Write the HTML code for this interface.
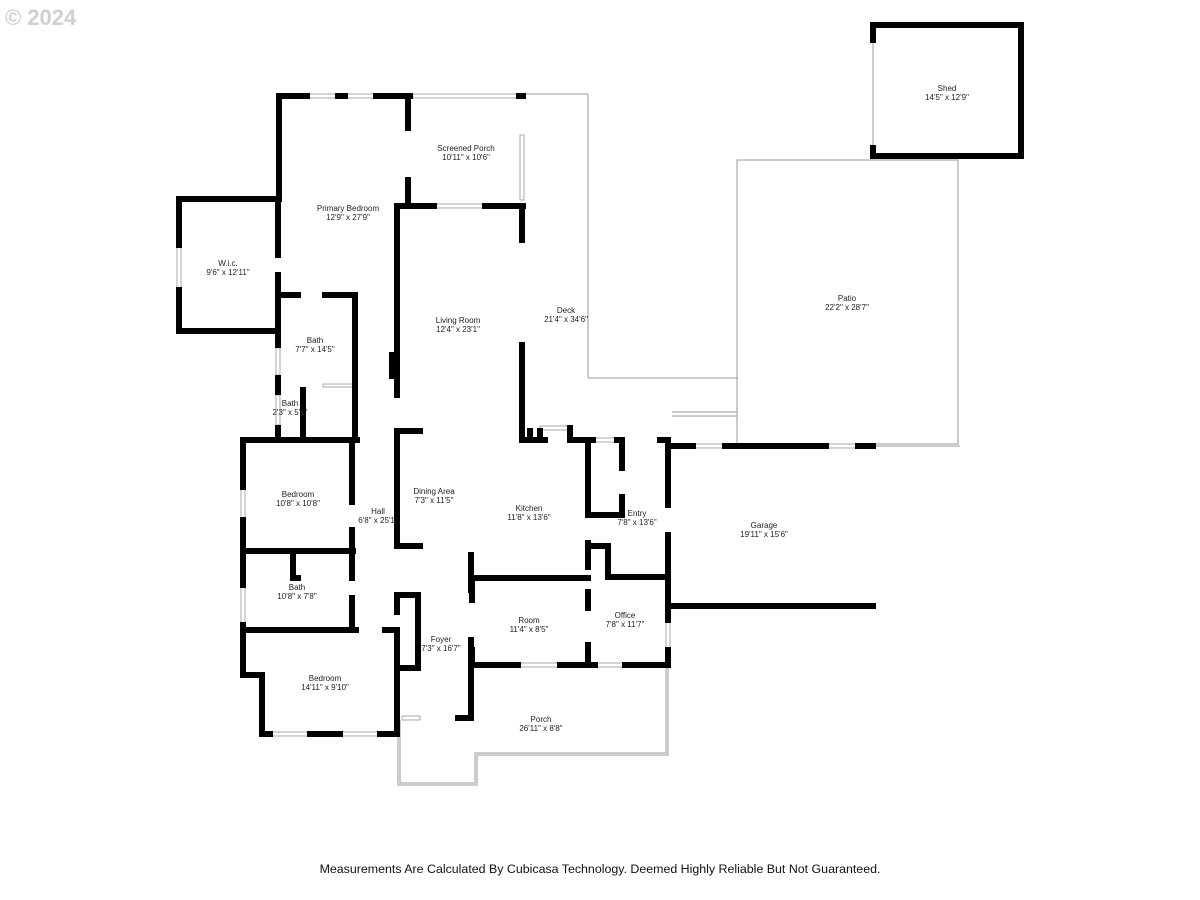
<!DOCTYPE html>
<html><head><meta charset="utf-8"><style>
html,body{margin:0;padding:0;background:#fff;width:1200px;height:900px;overflow:hidden}
svg{display:block}
text{font-family:"Liberation Sans",sans-serif;font-size:8px;fill:#222;text-anchor:middle}
</style></head><body>
<svg width="1200" height="900" viewBox="0 0 1200 900">
<g stroke="#999" stroke-width="1" fill="none">
<polyline points="525,94 588,94 588,378 738,378"/>
<rect x="737" y="160" width="221" height="284"/>
<polyline points="398,720 398,785 477,785 477,755 668,755 668,665"/>
<polyline points="400,720 400,783 475,783 475,753 666,753 666,665"/>
<line x1="672" y1="412" x2="737" y2="412"/><line x1="672" y1="416" x2="737" y2="416"/>
<line x1="873" y1="40" x2="873" y2="148"/>
<line x1="872" y1="446" x2="960" y2="446"/>
</g>
<g stroke="#aaa" stroke-width="1" fill="#fff">
<rect x="307" y="94" width="31" height="4"/><rect x="345" y="94" width="31" height="4"/>
<rect x="413" y="94" width="104" height="4"/>
<rect x="520" y="135" width="4" height="65"/>
<rect x="434" y="204" width="51" height="4"/>
<rect x="177" y="245" width="4" height="45"/>
<rect x="276" y="348" width="4" height="27"/>
<rect x="276" y="395" width="4" height="30"/>
<rect x="241" y="487" width="4" height="33"/><rect x="241" y="585" width="4" height="40"/>
<rect x="248" y="438" width="25" height="4"/>
<rect x="270" y="732" width="40" height="4"/><rect x="340" y="732" width="40" height="4"/>
<rect x="402" y="716" width="18" height="4"/>
<rect x="540" y="426" width="30" height="4"/>
<rect x="593" y="438" width="24" height="4"/>
<rect x="693" y="444" width="32" height="4"/><rect x="826" y="444" width="32" height="4"/>
<rect x="518" y="663" width="42" height="4"/><rect x="595" y="663" width="30" height="4"/>
<rect x="666" y="620" width="4" height="30"/>
<rect x="323" y="384" width="32" height="3"/>
</g>
<g stroke="#000" stroke-width="6" stroke-linecap="square" fill="none">
<polyline points="307,96 279,96 279,199 179,199 179,245"/>
<polyline points="179,290 179,331 278,331"/>
<line x1="338" y1="96" x2="345" y2="96"/><line x1="376" y1="96" x2="410" y2="96"/>
<line x1="278" y1="199" x2="278" y2="255"/><line x1="278" y1="275" x2="278" y2="345"/>
<line x1="278" y1="378" x2="278" y2="392"/><line x1="278" y1="428" x2="278" y2="440"/>
<line x1="408" y1="96" x2="408" y2="128"/><line x1="408" y1="180" x2="408" y2="205"/>
<line x1="519" y1="96" x2="523" y2="96"/>
<polyline points="434,206 397,206 397,395"/>
<line x1="485" y1="206" x2="523" y2="206"/>
<line x1="522" y1="206" x2="522" y2="240"/><line x1="522" y1="345" x2="522" y2="440"/>
<line x1="392" y1="355" x2="392" y2="376"/>
<line x1="278" y1="295" x2="298" y2="295"/><polyline points="325,295 355,295 355,440"/>
<line x1="303" y1="390" x2="303" y2="440"/>
<line x1="243" y1="440" x2="357" y2="440"/>
<polyline points="243,442 243,487"/><line x1="243" y1="520" x2="243" y2="585"/>
<line x1="243" y1="625" x2="243" y2="675"/>
<polyline points="243,675 262,675 262,734 270,734"/>
<line x1="310" y1="734" x2="340" y2="734"/><line x1="380" y1="734" x2="397" y2="734"/>
<line x1="352" y1="440" x2="352" y2="502"/><line x1="352" y1="530" x2="352" y2="551"/>
<line x1="243" y1="551" x2="353" y2="551"/>
<polyline points="293,552 293,578 298,578"/>
<line x1="352" y1="551" x2="352" y2="578"/><line x1="352" y1="598" x2="352" y2="630"/>
<line x1="243" y1="630" x2="356" y2="630"/><line x1="385" y1="630" x2="397" y2="630"/>
<line x1="397" y1="630" x2="397" y2="734"/>
<polyline points="397,612 397,595 418,595 418,668 400,668"/>
<polyline points="420,431 397,431 397,546 420,546"/>
<line x1="471" y1="555" x2="471" y2="590"/><line x1="471" y1="640" x2="471" y2="718"/>
<line x1="458" y1="718" x2="471" y2="718"/>
<line x1="522" y1="440" x2="545" y2="440"/><line x1="530" y1="431" x2="530" y2="440"/>
<line x1="540" y1="431" x2="540" y2="436"/>
<line x1="570" y1="428" x2="570" y2="440"/><line x1="570" y1="440" x2="593" y2="440"/>
<line x1="617" y1="440" x2="622" y2="440"/><line x1="660" y1="440" x2="668" y2="440"/>
<line x1="588" y1="440" x2="588" y2="515"/><line x1="588" y1="543" x2="588" y2="567"/>
<line x1="588" y1="592" x2="588" y2="608"/><line x1="588" y1="645" x2="588" y2="665"/>
<polyline points="588,515 622,515 622,497"/><line x1="622" y1="440" x2="622" y2="468"/>
<line x1="472" y1="578" x2="588" y2="578"/>
<polyline points="588,546 608,546 608,577 668,577"/>
<line x1="668" y1="440" x2="668" y2="505"/><line x1="668" y1="535" x2="668" y2="620"/>
<line x1="668" y1="650" x2="668" y2="665"/>
<line x1="472" y1="665" x2="518" y2="665"/><line x1="560" y1="665" x2="595" y2="665"/>
<line x1="625" y1="665" x2="668" y2="665"/>
<line x1="472" y1="578" x2="472" y2="600"/><line x1="472" y1="650" x2="472" y2="665"/>
<line x1="670" y1="446" x2="693" y2="446"/><line x1="725" y1="446" x2="826" y2="446"/>
<line x1="858" y1="446" x2="873" y2="446"/>
<line x1="668" y1="606" x2="873" y2="606"/>
<polyline points="873,40 873,25 1021,25 1021,156 873,156 873,148"/>
</g>
<text x="466" y="151">Screened Porch</text><text x="466" y="160">10'11" x 10'6"</text>
<text x="348" y="211">Primary Bedroom</text><text x="348" y="220">12'9" x 27'9"</text>
<text x="228" y="266">W.i.c.</text><text x="228" y="275">9'6" x 12'11"</text>
<text x="315" y="343">Bath</text><text x="315" y="352">7'7" x 14'5"</text>
<text x="290" y="406">Bath</text><text x="290" y="415">2'3" x 5'1"</text>
<text x="458" y="323">Living Room</text><text x="458" y="332">12'4" x 23'1"</text>
<text x="566" y="313">Deck</text><text x="566" y="322">21'4" x 34'6"</text>
<text x="847" y="301">Patio</text><text x="847" y="310">22'2" x 28'7"</text>
<text x="947" y="91">Shed</text><text x="947" y="100">14'5" x 12'9"</text>
<text x="298" y="497">Bedroom</text><text x="298" y="506">10'8" x 10'8"</text>
<text x="378" y="514">Hall</text><text x="378" y="523">6'8" x 25'1"</text>
<text x="434" y="494">Dining Area</text><text x="434" y="503">7'3" x 11'5"</text>
<text x="529" y="511">Kitchen</text><text x="529" y="520">11'8" x 13'6"</text>
<text x="637" y="516">Entry</text><text x="637" y="525">7'8" x 13'6"</text>
<text x="764" y="528">Garage</text><text x="764" y="537">19'11" x 15'6"</text>
<text x="297" y="590">Bath</text><text x="297" y="599">10'8" x 7'8"</text>
<text x="529" y="623">Room</text><text x="529" y="632">11'4" x 8'5"</text>
<text x="625" y="618">Office</text><text x="625" y="627">7'8" x 11'7"</text>
<text x="441" y="642">Foyer</text><text x="441" y="651">7'3" x 16'7"</text>
<text x="325" y="681">Bedroom</text><text x="325" y="690">14'11" x 9'10"</text>
<text x="541" y="722">Porch</text><text x="541" y="731">26'11" x 8'8"</text>
<text x="600" y="873" style="font-size:12.4px;fill:#111">Measurements Are Calculated By Cubicasa Technology. Deemed Highly Reliable But Not Guaranteed.</text>
<text x="5" y="25" style="font-size:22px;fill:#d0d0d0;text-anchor:start;font-weight:bold">© 2024</text>
</svg>
</body></html>
